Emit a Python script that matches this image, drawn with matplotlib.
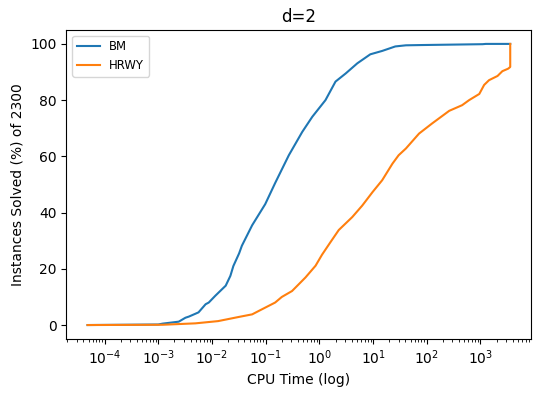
import matplotlib
matplotlib.use("Agg")
import matplotlib.pyplot as plt

# CPU time (s) and percent of instances solved
bm_time = [4.8e-5, 1.0e-3, 1.2e-3, 2.4e-3, 3.2e-3, 3.7e-3, 5.6e-3, 7.6e-3, 8.7e-3,
           1.15e-2, 1.55e-2, 1.8e-2, 2.2e-2, 2.5e-2, 3.2e-2, 3.6e-2, 5.6e-2, 9.8e-2,
           0.15, 0.27, 0.48, 0.74, 1.3, 2.0, 3.1, 5.1, 8.9, 14.8, 26, 41, 83,
           1100, 1260, 3600]
bm_solved = [0, 0.2, 0.5, 1.2, 2.6, 3.0, 4.5, 7.4, 8.0,
             10.4, 12.8, 14.0, 17.5, 21.0, 25.5, 28.2, 35.5, 43.0,
             50.5, 60.4, 68.7, 74.1, 80.0, 86.6, 89.5, 93.1, 96.3, 97.5, 99.1, 99.5, 99.6,
             99.9, 100, 100]

hrwy_time = [4.8e-5, 1.2e-3, 4.9e-3, 1.3e-2, 3.2e-2, 5.6e-2, 7.4e-2, 0.15, 0.2,
             0.31, 0.55, 0.85, 1.12, 1.6, 2.3, 4.1, 6.3, 9.8, 14.8, 23, 30, 41,
             72, 126, 263, 457, 617, 955, 1175, 1450, 2090, 2570, 3300, 3600, 3600]
hrwy_solved = [0, 0.1, 0.6, 1.4, 2.9, 3.8, 5.0, 8.0, 10.0,
               12.1, 16.9, 21.1, 25.0, 29.4, 33.8, 38.4, 42.5, 47.3, 51.5, 57.4, 60.4, 62.8,
               68.1, 71.7, 76.2, 78.2, 80.0, 82.2, 85.4, 87.1, 88.6, 90.3, 91.2, 91.8, 100]

fig, ax = plt.subplots(figsize=(5.4, 3.98), dpi=100)
fig.subplots_adjust(left=0.123, right=0.984, top=0.925, bottom=0.148)

ax.plot(bm_time, bm_solved, label="BM")
ax.plot(hrwy_time, hrwy_solved, label="HRWY")
ax.set_xscale("log")
ax.set_xlabel("CPU Time (log)")
ax.set_ylabel("Instances Solved (%) of 2300")
ax.set_title("d=2")
ax.legend(loc="upper left", fontsize="small")

fig.savefig("out.png")
